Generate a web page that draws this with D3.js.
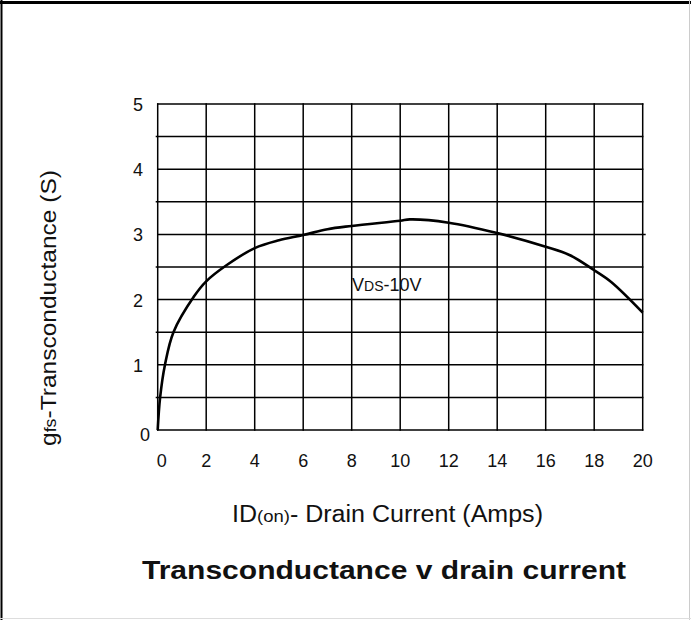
<!DOCTYPE html>
<meta charset="utf-8">
<style>
  body { margin: 0; background: #fff; }
  text { font-family: "Liberation Sans", Arial, sans-serif; fill: #111; }
  .grid line { stroke: #000; stroke-width: 1.5px; }
</style>
<body>
<svg width="691" height="620"></svg>
<script src="https://cdn.jsdelivr.net/npm/d3@7"></script>
<script>
    // values (VDS = 10V)
    let drainCurrent = [0, 0.1, 0.3, 0.65, 1.5, 2, 2.85, 4, 5, 6, 7, 8, 10, 10.4, 12, 14, 16, 17, 18, 18.7, 20];
    let transconductance = [0, 0.5, 1.0, 1.5, 2.05, 2.28, 2.53, 2.79, 2.91, 2.99, 3.08, 3.13, 3.21, 3.23, 3.18, 3.02, 2.81, 2.68, 2.45, 2.27, 1.80];
    let xTicks = [0, 2, 4, 6, 8, 10, 12, 14, 16, 18, 20];
    let yTicks = [0, 1, 2, 3, 4, 5];
    let yGrid = [0, 0.5, 1, 1.5, 2, 2.5, 3, 3.5, 4, 4.5, 5];

    var svg = d3.select("svg");

    // frame round the picture
    svg.append("line").attr("x1", 0).attr("x2", 691).attr("y1", 2.5).attr("y2", 2.5)
        .attr("stroke", "#000").attr("stroke-width", 3);
    svg.append("line").attr("x1", 1.5).attr("x2", 1.5).attr("y1", 0).attr("y2", 620)
        .attr("stroke", "#000").attr("stroke-width", 2);
    svg.append("line").attr("x1", 689.5).attr("x2", 689.5).attr("y1", 0).attr("y2", 620)
        .attr("stroke", "#ccc").attr("stroke-width", 1);
    svg.append("line").attr("x1", 0).attr("x2", 691).attr("y1", 618.5).attr("y2", 618.5)
        .attr("stroke", "#ddd").attr("stroke-width", 1);

    var x = d3.scaleLinear().domain([0, 20]).range([157.7, 642.7]);
    var y = d3.scaleLinear().domain([0, 5]).range([430, 104]);

    var grid = svg.append("g").attr("class", "grid");
    grid.selectAll("line.v")
        .data(xTicks)
        .enter().append("line")
            .attr("class", "v")
            .attr("x1", d => x(d)).attr("x2", d => x(d))
            .attr("y1", y(0) + 0.7).attr("y2", y(5) - 0.7);
    grid.selectAll("line.h")
        .data(yGrid)
        .enter().append("line")
            .attr("class", "h")
            .attr("x1", d => (d % 1 ? x(0) - 2 : x(0) - 0.7))
            .attr("x2", d => (d === 3 ? x(20) + 3 : x(20) + 0.7))
            .attr("y1", d => y(d)).attr("y2", d => y(d));

    // tick labels
    svg.append("g").selectAll("text")
        .data(xTicks)
        .enter().append("text")
            .attr("x", d => x(d) + (d === 0 ? 4 : 0))
            .attr("y", 467)
            .attr("text-anchor", "middle")
            .attr("font-size", 18)
            .text(d => d);

    svg.append("g").selectAll("text")
        .data(yTicks)
        .enter().append("text")
            .attr("x", d => (d === 0 ? 150 : 143))
            .attr("y", d => y(d) + (d === 0 ? 11 : 7))
            .attr("text-anchor", "end")
            .attr("font-size", 18)
            .text(d => d);

    // the curve
    let points = drainCurrent.map((d, i) => [d, transconductance[i]]);
    var line = d3.line()
        .x(d => x(d[0]))
        .y(d => y(d[1]))
        .curve(d3.curveCatmullRom.alpha(0.5));
    svg.append("path")
        .datum(points)
        .attr("d", line)
        .attr("fill", "none")
        .attr("stroke", "#000")
        .attr("stroke-width", 2.6);

    // curve label
    var vds = svg.append("text")
        .attr("x", 352).attr("y", 291)
        .attr("font-size", 18);
    vds.append("tspan").text("V");
    vds.append("tspan").attr("font-size", 14).text("DS");
    vds.append("tspan").text("-10V");

    // axis titles
    var xlab = svg.append("text")
        .attr("x", 232).attr("y", 522)
        .attr("font-size", 23)
        .attr("textLength", 311)
        .attr("lengthAdjust", "spacingAndGlyphs");
    xlab.append("tspan").text("ID");
    xlab.append("tspan").attr("font-size", 17).text("(on)");
    xlab.append("tspan").text("- Drain Current (Amps)");

    var ylab = svg.append("text")
        .attr("transform", "translate(56,446) rotate(-90)")
        .attr("font-size", 22)
        .attr("textLength", 276)
        .attr("lengthAdjust", "spacingAndGlyphs");
    ylab.append("tspan").text("g");
    ylab.append("tspan").attr("font-size", 16).text("fs");
    ylab.append("tspan").text("-Transconductance (S)");

    svg.append("text")
        .attr("x", 142).attr("y", 579)
        .attr("font-size", 25)
        .attr("font-weight", "bold")
        .attr("textLength", 484)
        .attr("lengthAdjust", "spacingAndGlyphs")
        .text("Transconductance v drain current");
</script>
</body>
